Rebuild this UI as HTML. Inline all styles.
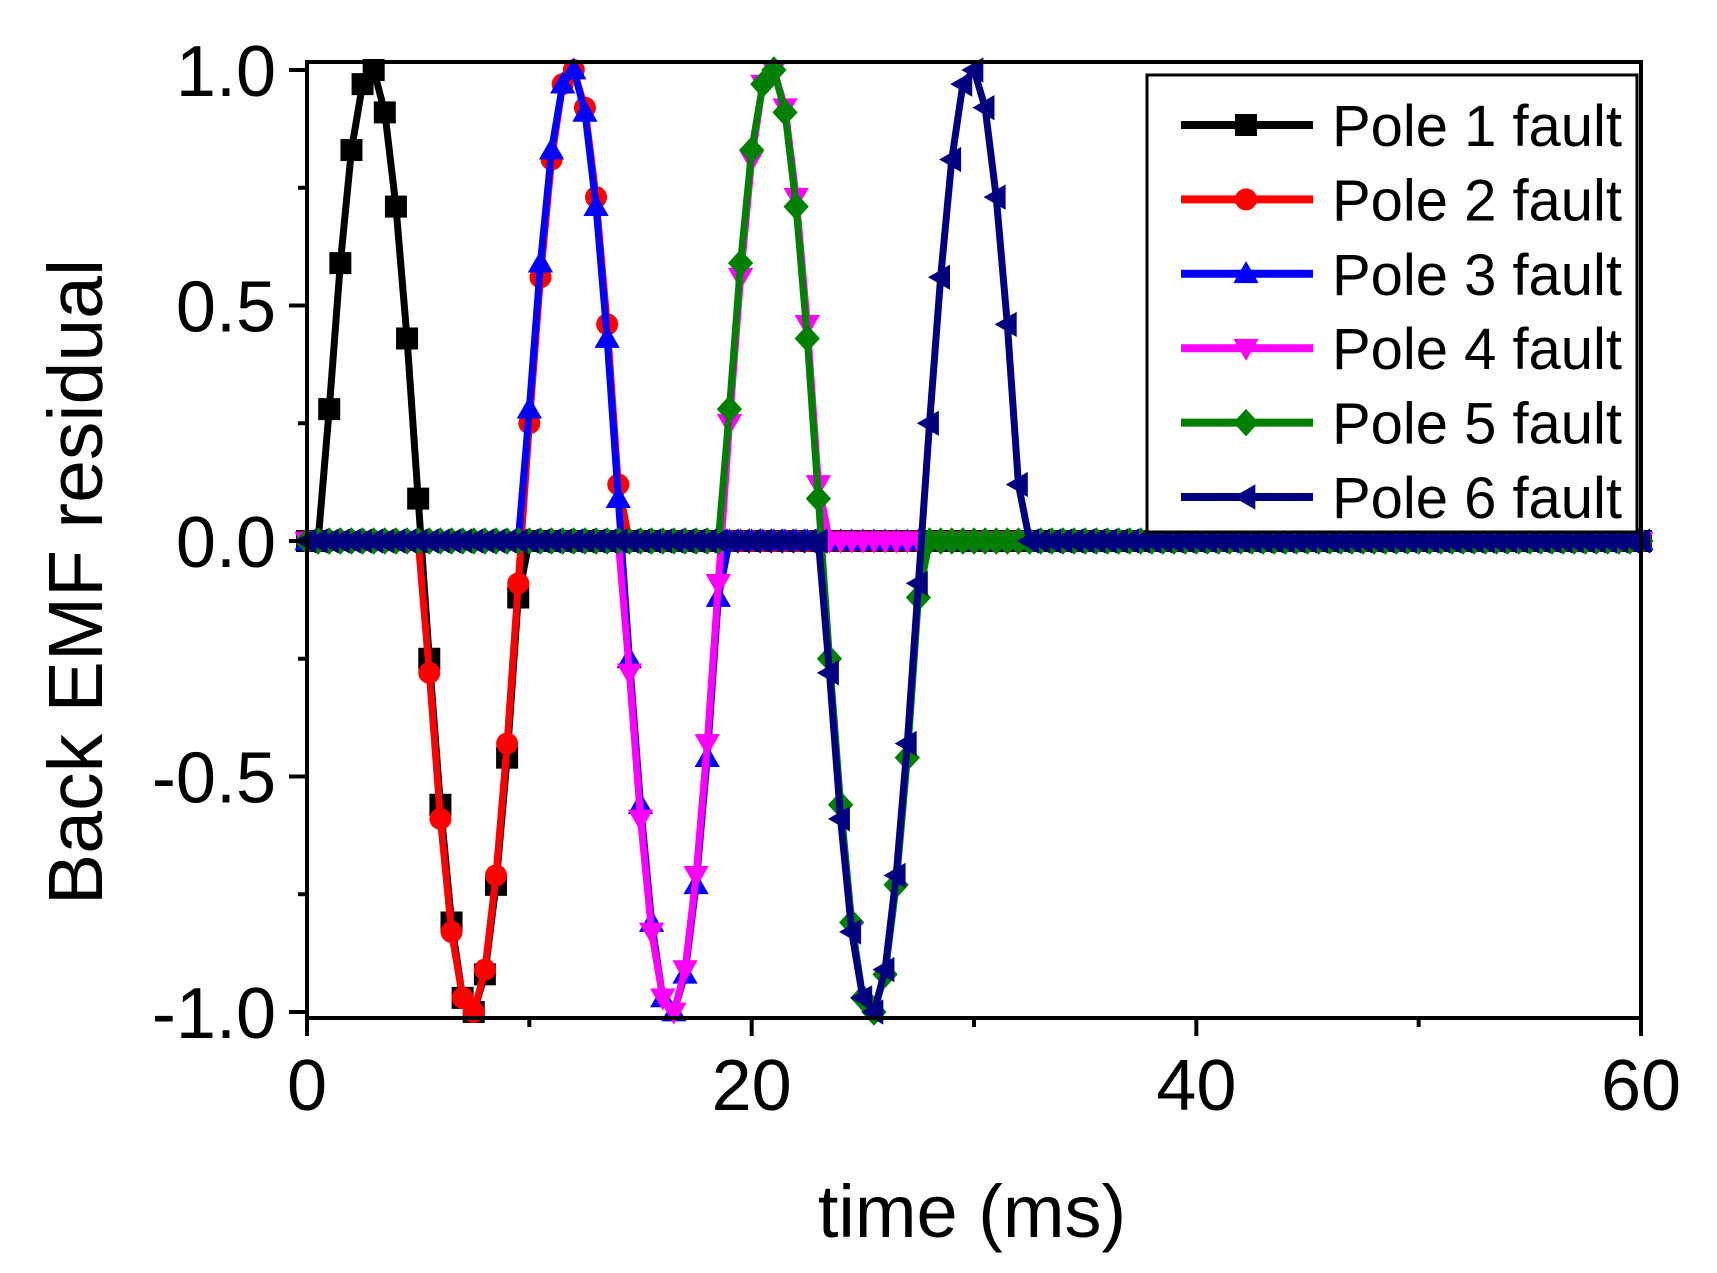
<!DOCTYPE html>
<html><head><meta charset="utf-8"><style>
html,body{margin:0;padding:0;background:#fff;}
svg{display:block;font-family:"Liberation Sans",Arial,sans-serif;}
</style></head><body>
<svg id="chart" width="1717" height="1273" viewBox="0 0 1717 1273"></svg>
<script>
// ---- data ----
const seriesNames = ["Pole 1 fault","Pole 2 fault","Pole 3 fault","Pole 4 fault","Pole 5 fault","Pole 6 fault"];
const segmentStarts = [0.5, 5.0, 9.5, 14.0, 18.5, 23.0];
const pole1 = [0,0.28,0.59,0.83,0.97,1.0,0.91,0.71,0.43,0.09,-0.25,-0.56,-0.81,-0.97,-1.0,-0.92,-0.73,-0.46,-0.12,0];
const pole2 = [0,-0.28,-0.59,-0.83,-0.97,-1.0,-0.91,-0.71,-0.43,-0.09,0.25,0.56,0.81,0.97,1.0,0.92,0.73,0.46,0.12,0];
const pole3 = [0,0.28,0.59,0.83,0.97,1.0,0.91,0.71,0.43,0.09,-0.25,-0.56,-0.81,-0.97,-1.0,-0.92,-0.73,-0.46,-0.12,0];
const pole4 = [0,-0.28,-0.59,-0.83,-0.97,-1.0,-0.91,-0.71,-0.43,-0.09,0.25,0.56,0.81,0.97,1.0,0.92,0.73,0.46,0.12,0];
const pole5 = [0,0.28,0.59,0.83,0.97,1.0,0.91,0.71,0.43,0.09,-0.25,-0.56,-0.81,-0.97,-1.0,-0.92,-0.73,-0.46,-0.12,0];
const pole6 = [0,-0.28,-0.59,-0.83,-0.97,-1.0,-0.91,-0.71,-0.43,-0.09,0.25,0.56,0.81,0.97,1.0,0.92,0.73,0.46,0.12,0];
const sampleStep = 0.5;
const timeMax = 60;
const xTickLabels = ["0","20","40","60"];
const xTickValues = [0,20,40,60];
const xMinorValues = [10,30,50];
const yTickLabels = ["1.0","0.5","0.0","-0.5","-1.0"];
const yTickValues = [1,0.5,0,-0.5,-1];
const yMinorValues = [0.75,0.25,-0.25,-0.75];

const allSeries = [pole1,pole2,pole3,pole4,pole5,pole6];
const colors = ["#000000","#ff0000","#0000ff","#ff00ff","#008000","#000080"];
const shapes = ["square","circle","up","down","diamond","left"];

const NS = "http://www.w3.org/2000/svg";
const svg = document.getElementById("chart");
const L=307, R=1641, T=62, B=1018;
const X = t => L + (t/60)*(R-L);
const Y = v => 541 - v*471;

function mk(tag, attrs, parent){
  const e = document.createElementNS(NS, tag);
  for (const k in attrs) e.setAttribute(k, attrs[k]);
  (parent||svg).appendChild(e);
  return e;
}
function marker(shape, cx, cy, s, color, parent){
  const h = s/2; let e;
  if (shape==="square") e = mk("rect",{x:cx-h,y:cy-h,width:s,height:s,fill:color},parent);
  else if (shape==="circle") e = mk("circle",{cx:cx,cy:cy,r:h,fill:color},parent);
  else if (shape==="up") e = mk("polygon",{points:`${cx},${cy-h*1.15} ${cx+h*1.15},${cy+h*0.85} ${cx-h*1.15},${cy+h*0.85}`,fill:color},parent);
  else if (shape==="down") e = mk("polygon",{points:`${cx},${cy+h*1.15} ${cx+h*1.15},${cy-h*0.85} ${cx-h*1.15},${cy-h*0.85}`,fill:color},parent);
  else if (shape==="diamond") e = mk("polygon",{points:`${cx},${cy-h*1.25} ${cx+h*1.15},${cy} ${cx},${cy+h*1.25} ${cx-h*1.15},${cy}`,fill:color},parent);
  else e = mk("polygon",{points:`${cx-h*1.15},${cy} ${cx+h*0.85},${cy-h*1.15} ${cx+h*0.85},${cy+h*1.15}`,fill:color},parent);
  return e;
}

// ---- series ----
const nSamples = Math.round(timeMax/sampleStep);
allSeries.forEach((vals, si) => {
  const g = mk("g",{});
  
  
  const pts = [];
  for (let i=0;i<=nSamples;i++){
    const t = i*sampleStep;
    const idx = Math.round((t - segmentStarts[si])/sampleStep);
    const v = (idx>=0 && idx<vals.length) ? vals[idx] : 0;
    pts.push([X(t), Y(v)]);
  }
  const line = mk("polyline",{points:pts.map(p=>p.join(",")).join(" "),fill:"none",stroke:colors[si],"stroke-width":7,"stroke-linejoin":"round"},g);
  
  
  pts.forEach(p => {
    const m = marker(shapes[si], p[0], p[1], 22, colors[si], g);
    
    
  });
});

// ---- frame & ticks ----
const frame = mk("rect",{x:L,y:T,width:R-L,height:B-T,fill:"none",stroke:"#000","stroke-width":4});


xTickValues.forEach((v,i)=>{
  const tk = mk("line",{x1:X(v),x2:X(v),y1:B,y2:B+18,stroke:"#000","stroke-width":4});
  
  
  const tx = mk("text",{x:X(v),y:1110,"font-size":72,"text-anchor":"middle",fill:"#000"});
  tx.textContent = xTickLabels[i];
  
  
});
xMinorValues.forEach(v=>{
  const tk = mk("line",{x1:X(v),x2:X(v),y1:B,y2:B+9,stroke:"#000","stroke-width":4});
  
  
});
yTickValues.forEach((v,i)=>{
  const tk = mk("line",{x1:L-18,x2:L,y1:Y(v),y2:Y(v),stroke:"#000","stroke-width":4});
  
  
  const tx = mk("text",{x:276,y:Y(v)+26,"font-size":72,"text-anchor":"end",fill:"#000"});
  tx.textContent = yTickLabels[i];
  
  
});
yMinorValues.forEach(v=>{
  const tk = mk("line",{x1:L-9,x2:L,y1:Y(v),y2:Y(v),stroke:"#000","stroke-width":4});
  
  
});

// ---- titles ----
const xt = mk("text",{x:972,y:1237,"font-size":74,"text-anchor":"middle",fill:"#000"});
xt.textContent = "time (ms)";


const yt = mk("text",{x:0,y:0,"font-size":77,"text-anchor":"middle",fill:"#000",transform:"translate(102,582) rotate(-90)"});
yt.textContent = "Back EMF residual";



// ---- legend ----
const lg = mk("g",{});


const lbox = mk("rect",{x:1147,y:75,width:490,height:457,fill:"#fff",stroke:"#000","stroke-width":3},lg);


seriesNames.forEach((name,i)=>{
  const ry = 125 + i*74.4;
  const eg = mk("g",{},lg);
  
  
  mk("line",{x1:1181,x2:1313,y1:ry,y2:ry,stroke:colors[i],"stroke-width":8},eg);
  marker(shapes[i],1246,ry,22,colors[i],eg);
  const tx = mk("text",{x:1332,y:ry+21,"font-size":58,fill:"#000",textLength:290,lengthAdjust:"spacingAndGlyphs"},eg);
  tx.textContent = name;
  
  
});
</script>
</body></html>
